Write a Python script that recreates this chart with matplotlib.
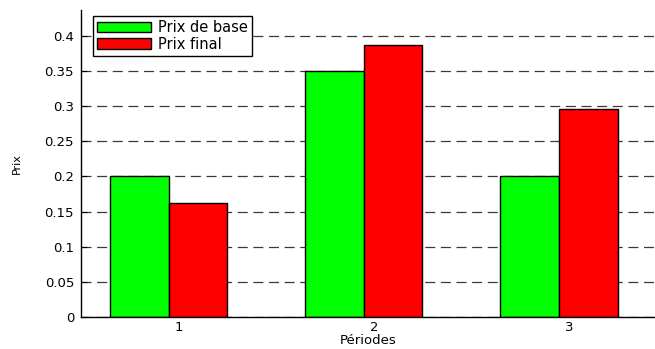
import matplotlib
matplotlib.use("Agg")
import matplotlib.pyplot as plt
import numpy as np

# Price per period
periods = [1, 2, 3]
period_labels = ["1", "2", "3"]
prix_base = [0.20, 0.35, 0.20]
prix_final = [0.1627, 0.3876, 0.2956]
y_ticks = [0, 0.05, 0.1, 0.15, 0.2, 0.25, 0.3, 0.35, 0.4]
y_tick_labels = ["0", "0.05", "0.1", "0.15", "0.2", "0.25", "0.3", "0.35", "0.4"]

plt.rcParams["font.family"] = ["DejaVu Sans"]
FS = 9.5

fig = plt.figure(figsize=(6.55, 3.49), dpi=100)
ax = fig.add_axes([81 / 655, 32 / 349, 1.0 - 81 / 655, 307 / 349])

x = np.array(periods, dtype=float)
w = 0.3
ax.bar(x - w / 2, prix_base, width=w, color="#00ff00", edgecolor="black",
       linewidth=1.0, label="Prix de base", zorder=3)
ax.bar(x + w / 2, prix_final, width=w, color="#ff0000", edgecolor="black",
       linewidth=1.0, label="Prix final", zorder=3)

ax.set_xlim(0.551, 3.492)
ax.set_ylim(0, 0.437)

ax.set_yticks(y_ticks)
ax.set_yticklabels(y_tick_labels, fontsize=FS)
# period labels sit slightly right of the group centres
ax.set_xticks(x + 0.052)
ax.set_xticklabels(period_labels, fontsize=FS)

ax.tick_params(axis="both", direction="in", length=4, width=0.8, colors="black")
ax.tick_params(axis="y", pad=5)
ax.tick_params(axis="x", pad=3, length=0)

for side in ("top", "right"):
    ax.spines[side].set_visible(False)
for side in ("left", "bottom"):
    ax.spines[side].set_color("black")
    ax.spines[side].set_linewidth(1.0)
    ax.spines[side].set_zorder(4)

ax.yaxis.grid(True, color="#3a3a3a", linewidth=0.9, linestyle=(0, (8, 4.5)), zorder=1)
ax.set_axisbelow(True)

ax.set_ylabel("Prix", fontsize=FS - 1.5, labelpad=16)
ax.set_xlabel("Périodes", fontsize=FS, labelpad=0)

leg = ax.legend(loc="upper left", bbox_to_anchor=(93 / 655, 1 - 16 / 349),
                bbox_transform=fig.transFigure, borderaxespad=0,
                fontsize=10.5, frameon=True, fancybox=False,
                handlelength=3.7, handleheight=0.75, handletextpad=0.45,
                labelspacing=0.12, borderpad=0.28)
leg.get_frame().set_edgecolor("black")
leg.get_frame().set_linewidth(1.0)
leg.get_frame().set_alpha(1.0)

fig.savefig("out.png", dpi=100)
